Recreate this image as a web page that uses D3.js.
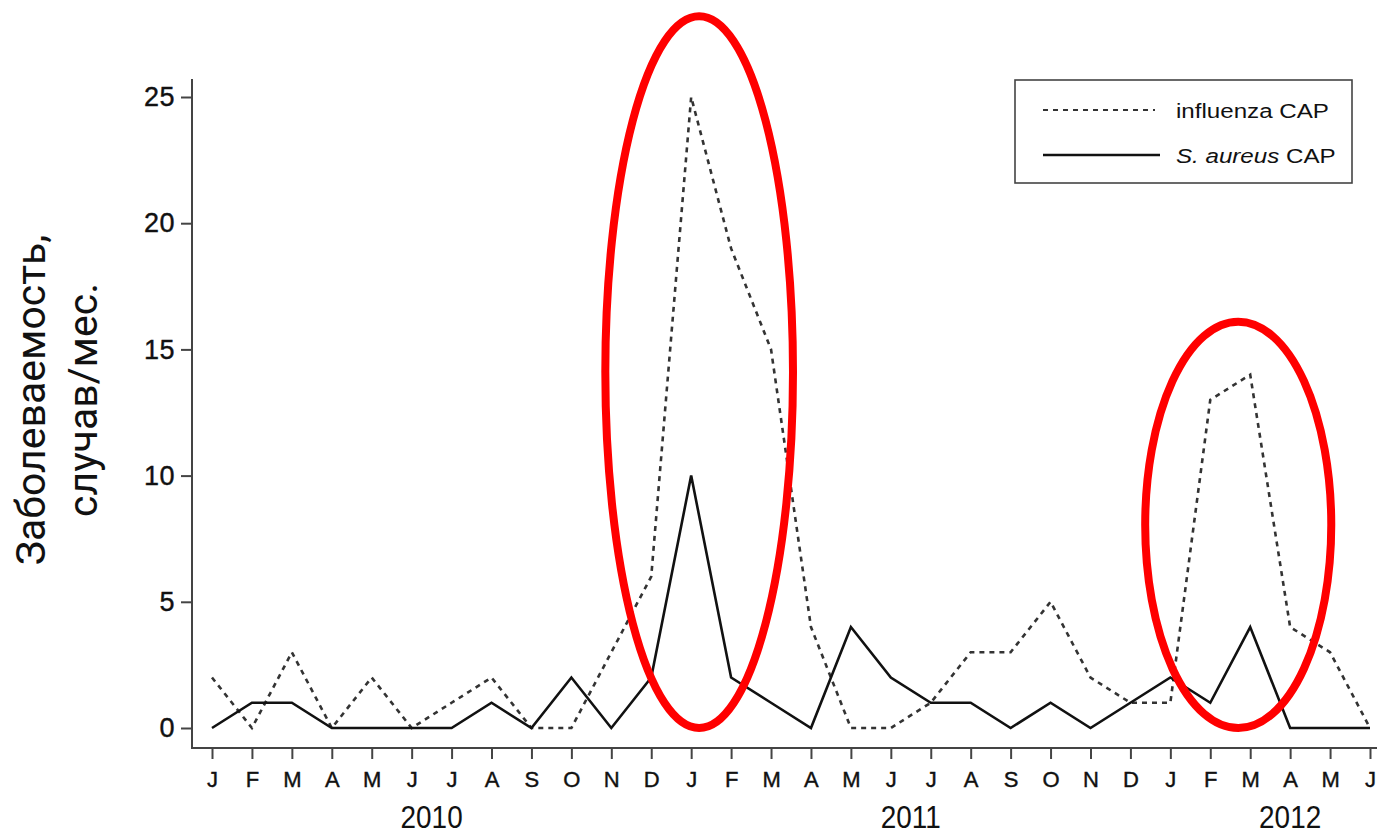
<!DOCTYPE html>
<html><head><meta charset="utf-8">
<script src="https://cdn.jsdelivr.net/npm/d3@7"></script>
<style>
html,body{margin:0;padding:0;background:#fff;}
svg{display:block;}
</style></head>
<body>
<svg id="chart" width="1377" height="835"></svg>
<script>
const monthLabels = ["J","F","M","A","M","J","J","A","S","O","N","D",
                     "J","F","M","A","M","J","J","A","S","O","N","D",
                     "J","F","M","A","M","J"];
const years = [{label:"2010", pos:5.5},{label:"2011", pos:17.5},{label:"2012", pos:27}];
const influenza = [2,0,3,0,2,0,1,2,0,0,3,6, 25,19,15,4,0,0,1,3,3,5,2,1, 1,13,14,4,3,0];
const saureus   = [0,1,1,0,0,0,0,1,0,2,0,2, 10,2,1,0,4,2,1,1,0,1,0,1, 2,1,4,0,0,0];
const yTicks = [0,5,10,15,20,25];
const highlights = [{cx:12.2, cy:14.1, rIdx:2.35, rVal:14.1},{cx:25.7, cy:8.05, rIdx:2.33, rVal:8.05}];

const svg = d3.select("#chart");
const x = d3.scaleLinear().domain([0, 29]).range([212, 1370]);
const y = d3.scaleLinear().domain([0, 25]).range([728, 97]);
const font = "Liberation Sans, Arial, sans-serif";

// frame lines
svg.append("line").attr("x1",192).attr("x2",192).attr("y1",79).attr("y2",748)
  .attr("stroke","#444").attr("stroke-width",2);
svg.append("line").attr("x1",191).attr("x2",1377).attr("y1",748).attr("y2",748)
  .attr("stroke","#444").attr("stroke-width",2);

// y axis
const yAxis = d3.axisLeft(y).tickValues(yTicks).tickSize(11).tickPadding(6).tickFormat(d3.format("d"));
const gy = svg.append("g").attr("transform","translate(192,0)").call(yAxis);
gy.select(".domain").remove();
gy.selectAll(".tick line").attr("stroke","#444").attr("stroke-width",2);
gy.selectAll(".tick text").attr("font-family",font).attr("font-size",27).attr("fill","#111")
  .attr("letter-spacing",0.5).attr("stroke","#111").attr("stroke-width",0.4);

// x axis
const xAxis = d3.axisBottom(x).tickValues(d3.range(monthLabels.length)).tickSize(11).tickPadding(12)
  .tickFormat(i => monthLabels[i]);
const gx = svg.append("g").attr("transform","translate(0,748)").call(xAxis);
gx.select(".domain").remove();
gx.selectAll(".tick line").attr("stroke","#444").attr("stroke-width",2);
gx.selectAll(".tick text").attr("font-family",font).attr("font-size",22).attr("fill","#111")
  .attr("stroke","#111").attr("stroke-width",0.4);

svg.selectAll(".year").data(years).enter().append("text")
  .attr("transform", d => `translate(${x(d.pos)},828) scale(0.9,1)`).attr("text-anchor","middle")
  .attr("font-family",font).attr("font-size",31).attr("fill","#111")
  .text(d => d.label);

// y title
const yt = svg.append("text").attr("transform","translate(45,400) rotate(-90)")
  .attr("text-anchor","middle").attr("font-family","Roboto, Open Sans, sans-serif")
  .attr("font-size",41).attr("fill","#111");
yt.append("tspan").attr("x",0).attr("dy",0).text("Заболеваемость,");
yt.append("tspan").attr("x",0).attr("dy",52).text("случав/мес.");

// lines
const line = d3.line().x((d,i) => x(i)).y(d => y(d));
svg.append("path").datum(influenza).attr("d",line).attr("fill","none")
  .attr("stroke","#333").attr("stroke-width",2.6).attr("stroke-dasharray","5,5");
svg.append("path").datum(saureus).attr("d",line).attr("fill","none")
  .attr("stroke","#111").attr("stroke-width",2.6);

// legend
const lg = svg.append("g");
lg.append("rect").attr("x",1015).attr("y",80).attr("width",337).attr("height",103)
  .attr("fill","#fff").attr("stroke","#444").attr("stroke-width",1.6);
lg.append("line").attr("x1",1043).attr("x2",1155).attr("y1",110).attr("y2",110)
  .attr("stroke","#333").attr("stroke-width",2).attr("stroke-dasharray","5,5");
lg.append("line").attr("x1",1043).attr("x2",1160).attr("y1",155).attr("y2",155)
  .attr("stroke","#111").attr("stroke-width",2.5);
lg.append("text").attr("transform","translate(1176,118) scale(1.15,1)").attr("font-family",font).attr("font-size",21).attr("fill","#111")
  .text("influenza CAP");
const t2 = lg.append("text").attr("transform","translate(1176,163) scale(1.15,1)").attr("font-family",font).attr("font-size",21).attr("fill","#111");
t2.append("tspan").attr("font-style","italic").text("S. aureus");
t2.append("tspan").text(" CAP");

// highlight ellipses
svg.selectAll(".hl").data(highlights).enter().append("ellipse")
  .attr("cx", d => x(d.cx)).attr("cy", d => y(d.cy))
  .attr("rx", d => x(d.rIdx) - x(0)).attr("ry", d => y(0) - y(d.rVal))
  .attr("fill","none").attr("stroke","#f00").attr("stroke-width",8);
</script>
</body></html>
